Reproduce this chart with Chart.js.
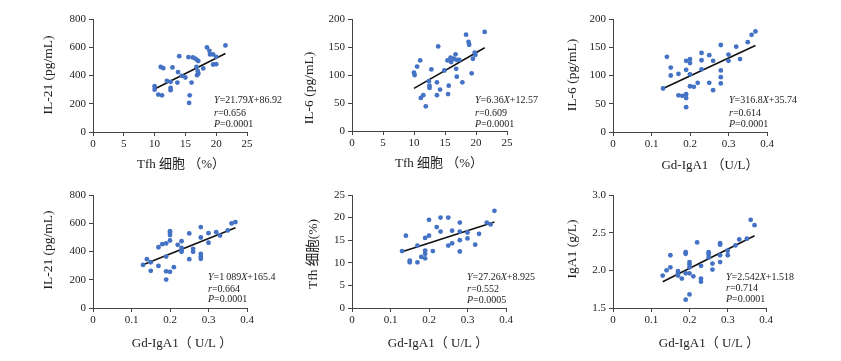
<!DOCTYPE html>
<html>
<head>
<meta charset="utf-8">
<script src="https://cdn.jsdelivr.net/npm/chart.js@4.4.1/dist/chart.umd.min.js"></script>
<style>
  body { margin: 0; background: #fff; width: 841px; height: 361px; position: relative; overflow: hidden; }
  canvas { position: absolute; }
</style>
</head>
<body>
<canvas id="c0" width="300" height="180" style="left:0;top:0"></canvas>
<canvas id="c1" width="300" height="180" style="left:280px;top:0"></canvas>
<canvas id="c2" width="281" height="180" style="left:560px;top:0"></canvas>
<canvas id="c3" width="300" height="181" style="left:0;top:180px"></canvas>
<canvas id="c4" width="300" height="181" style="left:280px;top:180px"></canvas>
<canvas id="c5" width="281" height="181" style="left:560px;top:180px"></canvas>
<script>
// ---- data ----
// 1: Tfh (%) vs IL-21
const p1X = [10.0,10.0,10.6,11.2,11.0,11.4,12.0,12.6,12.6,12.6,12.9,13.7,13.8,14.0,14.4,15.0,15.5,15.6,15.7,16.0,16.2,16.6,16.8,16.9,17.1,17.0,17.1,16.9,17.9,18.5,18.9,19.0,19.5,19.5,20.0,20.0,21.5];
const p1Y = [324,300,265,260,461,452,362,355,312,296,457,350,424,537,398,386,530,206,260,350,528,520,461,509,502,431,414,402,450,599,575,549,549,478,480,532,613];
// 2: Tfh (%) vs IL-6
const p2X = [10.0,10.1,10.5,11.0,11.1,11.5,11.9,12.4,12.5,12.5,12.8,13.7,13.7,13.9,14.2,14.9,15.4,15.5,15.6,15.9,16.0,16.4,16.7,16.8,16.9,16.9,17.3,17.8,18.4,18.8,18.9,19.3,19.5,19.8,19.9,21.4];
const p2Y = [104,100,115,126,59,64,44,89,81,77,110,87,64,151,74,108,126,66,81,131,123,129,137,111,97,127,127,87,172,159,154,103,129,140,136,177];
// 3: Gd-IgA1 vs IL-6
const p3X = [0.13,0.14,0.15,0.15,0.17,0.17,0.18,0.19,0.19,0.19,0.19,0.19,0.2,0.2,0.2,0.2,0.21,0.22,0.23,0.23,0.23,0.25,0.25,0.26,0.26,0.28,0.28,0.28,0.28,0.3,0.3,0.32,0.33,0.35,0.36,0.37];
const p3Y = [77,133,114,100,103,65,64,126,110,67,60,44,129,122,102,81,80,87,140,127,111,136,87,126,74,154,109,97,86,137,126,151,129,159,172,178];
// 4: Gd-IgA1 vs IL-21
const p4X = [0.13,0.14,0.15,0.15,0.17,0.17,0.18,0.19,0.19,0.19,0.19,0.2,0.2,0.2,0.2,0.2,0.21,0.22,0.23,0.23,0.23,0.23,0.25,0.25,0.26,0.26,0.28,0.28,0.28,0.28,0.28,0.3,0.3,0.32,0.33,0.35,0.36,0.37];
const p4Y = [305,346,324,263,430,298,452,457,364,260,201,478,532,544,516,256,289,447,473,426,409,398,528,346,419,398,573,499,383,362,348,530,462,537,513,549,599,608];
// 5: Gd-IgA1 vs Tfh (%)
const p5X = [0.13,0.14,0.15,0.15,0.17,0.17,0.18,0.19,0.19,0.19,0.19,0.2,0.2,0.21,0.22,0.23,0.23,0.25,0.25,0.26,0.26,0.28,0.28,0.28,0.28,0.3,0.3,0.32,0.33,0.35,0.36,0.37];
const p5Y = [12.6,16.0,10.5,10.1,13.8,10.1,11.3,15.5,12.7,12.0,11.0,19.5,16.0,12.6,17.9,20.0,16.9,20.0,13.8,17.1,14.3,18.9,16.9,15.0,12.5,16.7,15.4,14.0,16.4,18.9,18.5,21.5];
// 6: Gd-IgA1 vs IgA1
const p6X = [0.13,0.14,0.15,0.15,0.17,0.17,0.17,0.18,0.19,0.19,0.19,0.19,0.2,0.2,0.2,0.2,0.2,0.21,0.22,0.23,0.23,0.23,0.25,0.25,0.25,0.26,0.26,0.28,0.28,0.28,0.28,0.3,0.3,0.32,0.33,0.35,0.36,0.37];
const p6Y = [1.93,2.00,2.20,2.04,1.99,1.96,1.93,1.89,2.24,2.22,1.96,1.61,2.04,2.08,2.11,1.96,1.68,1.92,2.37,2.06,1.89,1.85,2.24,2.21,2.17,2.09,2.01,2.36,2.34,2.20,2.11,2.26,2.20,2.33,2.41,2.42,2.67,2.60];

// regression results printed in each panel
const slopes = [21.79, 6.36, 316.8, 1089, 27.26, 2.542];
const intercepts = [86.92, 12.57, 35.74, 165.4, 8.925, 1.518];
const slopeText = ['21.79', '6.36', '316.8', '1\u2009089', '27.26', '2.542'];
const interceptText = ['86.92', '12.57', '35.74', '165.4', '8.925', '1.518'];
const rText = ['0.656', '0.609', '0.614', '0.664', '0.552', '0.714'];
const pText = ['0.0001', '0.0001', '0.0001', '0.0001', '0.0005', '0.0001'];

// axes
const xMax = [25, 25, 0.4, 0.4, 0.4, 0.4];
const xStep = [5, 5, 0.1, 0.1, 0.1, 0.1];
const yMin = [0, 0, 0, 0, 0, 1.5];
const yMax = [800, 200, 200, 800, 25, 3.0];
const yStep = [200, 50, 50, 200, 5, 0.5];
const yTitles = ['IL-21 (pg/mL)', 'IL-6 (pg/mL)', 'IL-6 (pg/mL)', 'IL-21 (pg/mL)', 'Tfh 细胞(%)', 'IgA1 (g/L)'];
const xTitles = ['Tfh 细胞 （%）', 'Tfh 细胞 （%）', 'Gd-IgA1 （U/L）', 'Gd-IgA1（ U/L ）', 'Gd-IgA1（ U/L ）', 'Gd-IgA1（ U/L ）'];

const allX = [p1X, p2X, p3X, p4X, p5X, p6X];
const allY = [p1Y, p2Y, p3Y, p4Y, p5Y, p6Y];

// ---- layout (canvas-relative pixels) ----
const areaL = [93, 72, 53, 93, 72, 53];
const areaR = [247, 227, 207, 247, 226, 206];
const areaT = [19, 19, 19, 15, 15, 15];
const areaB = [132, 131, 132, 128, 128, 128];
const yTitleX = [48, 29, 12, 48, 33, 12];
const yTitleY = [75, 88, 75, 70, 74, 69];
const xTitleX = [181, 159, 150, 182, 158, 149];
const xTitleY = [165, 164, 166, 164, 164, 164];
const annX = [214, 195, 169, 208, 187, 166];
const annY = [[100, 113, 124], [100, 113, 124], [100, 113, 124], [97, 109, 119], [97, 109, 120], [97, 108, 119]];

const SERIF = "'Liberation Serif', 'Times New Roman', 'Noto Sans CJK SC', serif";
const TEXT = '#222';
const AXIS = '#444';
const DOT = '#4472c4';
const Y_BOX = 40, X_BOX = 24;

const textPlugin = {
  id: 'panelText',
  afterDraw(chart, args, o) {
    const ctx = chart.ctx;
    ctx.save();
    ctx.fillStyle = TEXT;
    ctx.textBaseline = 'middle';

    // y title
    ctx.save();
    ctx.font = '13.5px ' + SERIF;
    ctx.textAlign = 'center';
    ctx.translate(o.yx, o.yy);
    ctx.rotate(-Math.PI / 2);
    ctx.fillText(o.yTitle, 0, 0);
    ctx.restore();

    // x title
    ctx.font = '13px ' + SERIF;
    ctx.textAlign = 'center';
    ctx.fillText(o.xTitle, o.xx, o.xy);

    // regression text
    ctx.textAlign = 'left';
    o.lines.forEach((segs, i) => {
      let x = o.ax;
      segs.forEach(([s, it]) => {
        ctx.font = (it ? 'italic ' : '') + '10px ' + SERIF;
        ctx.fillText(s, x, o.ay[i]);
        x += ctx.measureText(s).width;
      });
    });
    ctx.restore();
  }
};

function makePanel(i) {
  const canvas = document.getElementById('c' + i);
  const xs = allX[i], ys = allY[i];
  const pts = xs.map((x, k) => ({ x, y: ys[k] }));
  const x0 = Math.min(...xs), x1 = Math.max(...xs);
  const fit = [x0, x1].map(x => ({ x, y: slopes[i] * x + intercepts[i] }));

  const tickFont = { family: SERIF, size: 11 };
  const grid = { display: true, drawOnChartArea: false, drawTicks: true, tickLength: 4, color: AXIS, lineWidth: 1 };
  const border = { display: true, color: AXIS, width: 1 };

  new Chart(canvas, {
    type: 'scatter',
    data: {
      datasets: [
        { data: pts, backgroundColor: DOT, borderWidth: 0, pointRadius: 2.4 },
        { type: 'line', data: fit, borderColor: '#111', borderWidth: 1.6, pointRadius: 0, fill: false }
      ]
    },
    options: {
      responsive: false,
      animation: false,
      devicePixelRatio: 1,
      layout: {
        padding: {
          left: areaL[i] - Y_BOX,
          right: canvas.width - areaR[i],
          top: areaT[i],
          bottom: canvas.height - areaB[i] - X_BOX
        }
      },
      plugins: {
        legend: { display: false },
        tooltip: { enabled: false },
        panelText: {
          yTitle: yTitles[i], yx: yTitleX[i], yy: yTitleY[i],
          xTitle: xTitles[i], xx: xTitleX[i], xy: xTitleY[i],
          ax: annX[i], ay: annY[i],
          lines: [
            [['Y', true], ['=' + slopeText[i], false], ['X', true], ['+' + interceptText[i], false]],
            [['r', true], ['=' + rText[i], false]],
            [['P', true], ['=' + pText[i], false]]
          ]
        }
      },
      scales: {
        x: {
          type: 'linear', min: 0, max: xMax[i],
          ticks: { stepSize: xStep[i], color: TEXT, font: tickFont, padding: 2, maxRotation: 0 },
          grid, border,
          afterFit: s => { s.height = X_BOX; }
        },
        y: {
          type: 'linear', min: yMin[i], max: yMax[i],
          ticks: {
            stepSize: yStep[i], color: TEXT, font: tickFont, padding: 3,
            callback: v => (yStep[i] < 1 ? v.toFixed(1) : String(v))
          },
          grid, border,
          afterFit: s => { s.width = Y_BOX; }
        }
      }
    },
    plugins: [textPlugin]
  });
}

for (let i = 0; i < 6; i++) makePanel(i);
</script>
</body>
</html>
